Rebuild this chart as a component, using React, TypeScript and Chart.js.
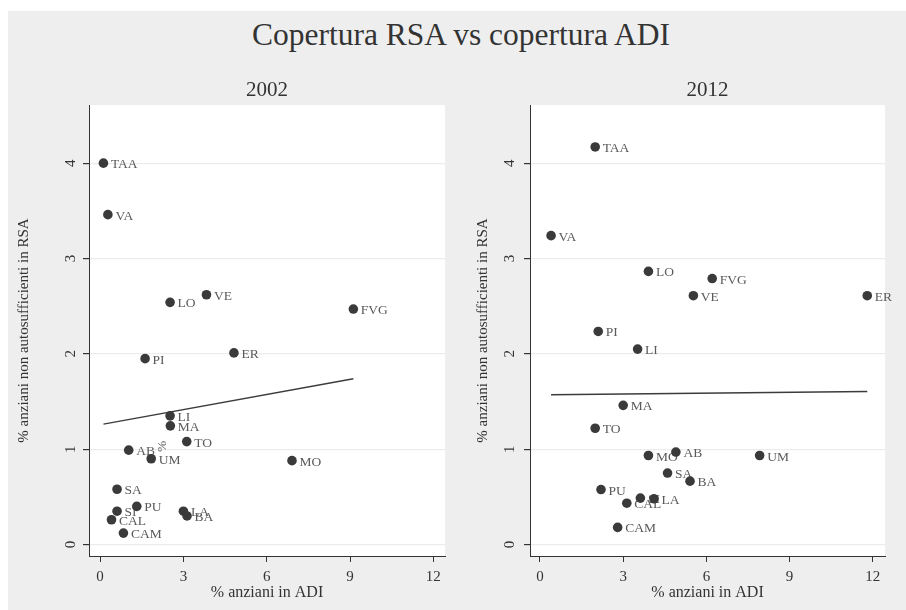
import React, { useEffect, useRef } from "react";
import { Chart, registerables } from "chart.js";

Chart.register(...registerables);

// ---- Data ----
const mainTitle = "Copertura RSA vs copertura ADI";
const xAxisTitle = "% anziani in ADI";
const yAxisTitle = "% anziani non autosufficienti in RSA";

const xTicks = [0, 3, 6, 9, 12];
const yTicks = [0, 1, 2, 3, 4];

const regions2002 = ["TAA", "VA", "LO", "VE", "FVG", "ER", "PI", "LI", "MA", "TO", "AB", "UM", "MO", "SA", "PU", "SI", "CAL", "CAM", "LA", "BA"];
const adi2002 = [0.12, 0.28, 2.52, 3.83, 9.12, 4.82, 1.62, 2.52, 2.53, 3.12, 1.03, 1.84, 6.91, 0.61, 1.32, 0.61, 0.41, 0.84, 3.0, 3.13];
const rsa2002 = [4.0, 3.46, 2.54, 2.62, 2.47, 2.01, 1.95, 1.35, 1.245, 1.08, 0.99, 0.9, 0.88, 0.58, 0.4, 0.35, 0.26, 0.12, 0.35, 0.3];
const fitX2002 = [0.12, 9.12];
const fitY2002 = [1.263, 1.74];
const stray2002 = { x: 2.25, y: 1.03, text: "%" };

const regions2012 = ["TAA", "VA", "LO", "FVG", "VE", "ER", "PI", "LI", "MA", "TO", "MO", "AB", "UM", "SA", "BA", "PU", "SI", "LA", "CAL", "CAM"];
const adi2012 = [1.99, 0.4, 3.91, 6.21, 5.53, 11.8, 2.1, 3.52, 3.0, 1.99, 3.91, 4.9, 7.92, 4.6, 5.41, 2.2, 3.62, 4.11, 3.13, 2.8];
const rsa2012 = [4.17, 3.24, 2.865, 2.79, 2.61, 2.61, 2.235, 2.05, 1.46, 1.22, 0.934, 0.97, 0.934, 0.75, 0.665, 0.577, 0.487, 0.48, 0.434, 0.18];
const fitX2012 = [0.4, 11.8];
const fitY2012 = [1.571, 1.605];

const FONT = "'Liberation Serif', 'Times New Roman', serif";
const TEXT = "#333333";
const LABEL = "#5a5a5a";
const MARK = "#3a3a3a";

type PanelProps = {
  title: string;
  codes: string[];
  xs: number[];
  ys: number[];
  fitX: number[];
  fitY: number[];
  xMin: number;
  xMax: number;
  width: number;
  yWidth: number;
  rightPad: number;
  yTitlePad: number;
  yTickPad: number;
  stray?: { x: number; y: number; text: string } | null;
};

function Panel(props: PanelProps) {
  const ref = useRef<HTMLCanvasElement | null>(null);
  useEffect(() => {
    const canvas = ref.current;
    if (!canvas) return;
    const p = props;
    const points = p.xs.map((x, i) => ({ x, y: p.ys[i] }));
    const fit = p.fitX.map((x, i) => ({ x, y: p.fitY[i] }));

    const bgPlugin = {
      id: "plotBg",
      beforeDraw(chart: any) {
        const { ctx, chartArea } = chart;
        ctx.save();
        ctx.fillStyle = "#ffffff";
        ctx.fillRect(chartArea.left, chartArea.top, chartArea.right - chartArea.left, chartArea.bottom - chartArea.top);
        ctx.restore();
      },
    };
    const labelPlugin = {
      id: "pointLabels",
      beforeDatasetsDraw(chart: any) {
        const { ctx } = chart;
        const xs = chart.scales.x;
        const ys = chart.scales.y;
        ctx.save();
        ctx.font = `13.5px ${FONT}`;
        ctx.fillStyle = LABEL;
        ctx.textAlign = "left";
        ctx.textBaseline = "alphabetic";
        p.codes.forEach((c, i) => {
          const px = xs.getPixelForValue(p.xs[i]);
          const py = ys.getPixelForValue(p.ys[i]);
          ctx.fillText(c, px + 7.5, py + 5);
        });
        if (p.stray) {
          const px = xs.getPixelForValue(p.stray.x);
          const py = ys.getPixelForValue(p.stray.y);
          ctx.translate(px, py);
          ctx.rotate(-Math.PI / 2);
          ctx.textAlign = "center";
          ctx.textBaseline = "middle";
          ctx.fillText(p.stray.text, 0, 0);
        }
        ctx.restore();
      },
      afterDraw(chart: any) {
        const { ctx, chartArea } = chart;
        ctx.save();
        ctx.font = `21px ${FONT}`;
        ctx.fillStyle = TEXT;
        ctx.textAlign = "center";
        ctx.textBaseline = "alphabetic";
        ctx.fillText(p.title, (chartArea.left + chartArea.right) / 2, 85);
        ctx.restore();
      },
    };

    const chart = new Chart(canvas, {
      type: "scatter",
      data: {
        datasets: [
          {
            data: points,
            backgroundColor: MARK,
            borderWidth: 0,
            pointRadius: 4.8,
            pointHoverRadius: 4.8,
            showLine: false,
          },
          {
            data: fit,
            showLine: true,
            borderColor: "#3c3c3c",
            borderWidth: 1.5,
            pointRadius: 0,
            pointHoverRadius: 0,
          },
        ],
      },
      options: {
        animation: false,
        responsive: false,
        events: [],
        layout: { padding: { top: 94, right: p.rightPad, left: 0, bottom: 0 } },
        plugins: {
          legend: { display: false },
          tooltip: { enabled: false },
          title: { display: false },
        },
        scales: {
          x: {
            type: "linear",
            min: p.xMin,
            max: p.xMax,
            afterBuildTicks: (s: any) => {
              s.ticks = xTicks.map((v) => ({ value: v }));
            },
            afterFit: (s: any) => {
              s.height = 54;
            },
            grid: { drawOnChartArea: false, drawTicks: true, tickLength: 6, tickColor: TEXT, color: TEXT },
            border: { color: TEXT, width: 1 },
            ticks: { font: { family: FONT, size: 15 }, color: TEXT, padding: 6, maxRotation: 0, autoSkip: false },
            title: { display: true, text: xAxisTitle, font: { family: FONT, size: 16 }, color: TEXT, padding: { top: 0, bottom: 8 } },
          },
          y: {
            type: "linear",
            min: -0.12,
            max: 4.61,
            afterBuildTicks: (s: any) => {
              s.ticks = yTicks.map((v) => ({ value: v }));
            },
            afterFit: (s: any) => {
              s.width = p.yWidth;
            },
            grid: { color: "#ececec", lineWidth: 1.2, drawTicks: true, tickLength: 6, tickColor: TEXT },
            border: { color: TEXT, width: 1 },
            ticks: { font: { family: FONT, size: 15 }, color: TEXT, padding: p.yTickPad, minRotation: 90, maxRotation: 90, crossAlign: "center", autoSkip: false },
            title: { display: true, text: yAxisTitle, font: { family: FONT, size: 15 }, color: TEXT, padding: { top: p.yTitlePad, bottom: 0 } },
          },
        },
      } as any,
      plugins: [bgPlugin, labelPlugin],
    });
    return () => chart.destroy();
  }, []);
  return <canvas ref={ref} width={props.width} height={599} style={{ display: "block", width: props.width, height: 599 }} />;
}

export default function App() {
  return (
    <div
      style={{
        position: "fixed",
        left: 8,
        top: 11,
        width: 898,
        height: 599,
        background: "#eeeeee",
        overflow: "hidden",
      }}
    >
      <div
        style={{
          position: "absolute",
          top: 8,
          left: 0,
          width: 906,
          textAlign: "center",
          fontFamily: FONT,
          fontSize: 31.5,
          lineHeight: "31px",
          color: TEXT,
          whiteSpace: "nowrap",
        }}
      >
        {mainTitle}
      </div>
      <div style={{ position: "absolute", left: 0, top: 0 }}>
        <Panel
          title="2002"
          codes={regions2002}
          xs={adi2002}
          ys={rsa2002}
          fitX={fitX2002}
          fitY={fitY2002}
          xMin={-0.4}
          xMax={12.42}
          width={445}
          yWidth={81}
          rightPad={8}
          yTitlePad={7}
          yTickPad={8}
          stray={stray2002}
        />
      </div>
      <div style={{ position: "absolute", left: 445, top: 0 }}>
        <Panel
          title="2012"
          codes={regions2012}
          xs={adi2012}
          ys={rsa2012}
          fitX={fitX2012}
          fitY={fitY2012}
          xMin={-0.36}
          xMax={12.44}
          width={453}
          yWidth={77}
          rightPad={21}
          yTitlePad={21}
          yTickPad={10}
          stray={null}
        />
      </div>
    </div>
  );
}
